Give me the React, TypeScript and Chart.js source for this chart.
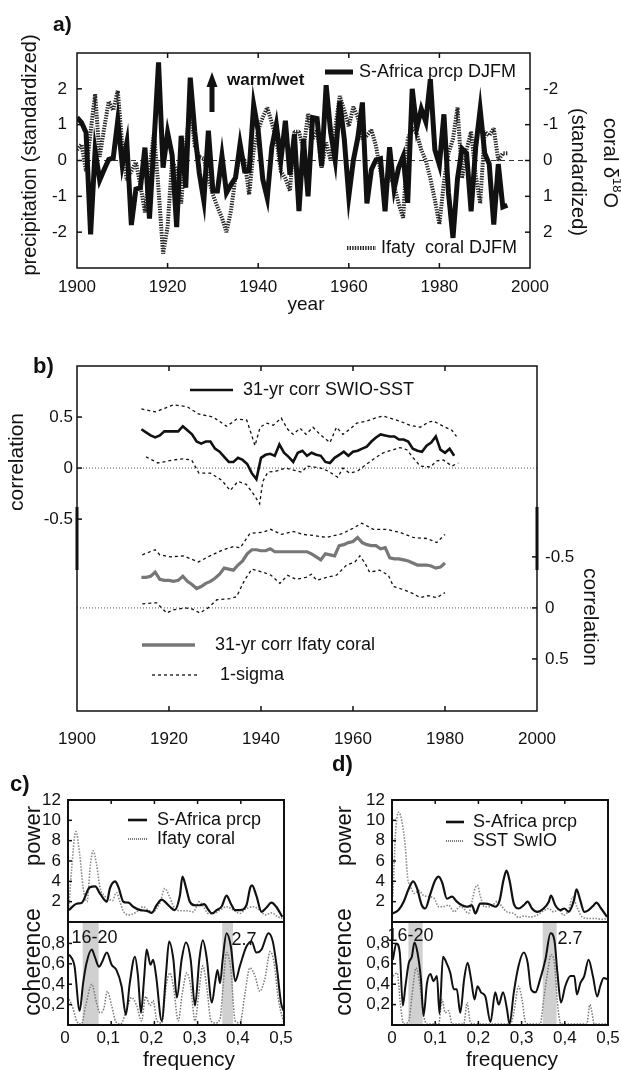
import React, { useEffect, useRef } from "react";
import { Chart, registerables } from "chart.js";
Chart.register(...registerables);

const FONT = "'Liberation Sans', Arial, Helvetica, sans-serif";
Chart.defaults.font.family = FONT;

type P = [number, number];

// ---------------- Panel a: annual series 1900-1995 ----------------
const aStartYear = 1900;
const aXTicks = [1900, 1920, 1940, 1960, 1980, 2000];
const aYTicks = [-2, -1, 0, 1, 2];
// S-Africa precipitation DJFM (standardized, left axis)
const aPrcp = [
  1.2, 1.06, 0.78, -2.06, 0.28, -0.55, -0.25, 0.03, 0.07, 1.12,
  -0.13, 0.5, -1.8, -0.8, -0.76, 0.36, -1.62, 0.5, 2.74, -0.2,
  0.78, 0.15, -1.86, 0.69, -0.76, 2.31, 0.8, -0.35, -1.12, 0.83,
  -0.85, -0.85, 0.13, -0.9, -0.67, -0.48, 0.46, -0.29, -0.29, 1.55,
  0.83, -0.52, -1.05, 0.36, 1.0, 0.0, 1.11, -0.4, 0.74, -1.41,
  0.6, -1.0, 1.2, 1.17, -0.16, 2.1, 0.78, 0.0, 1.65, 0.6,
  -1.0, 0.0, 0.64, 1.62, -1.2, -0.25, 0.02, 0.05, -1.42, 0.37,
  -0.8, -0.2, 0.12, -1.18, 2.0, 0.9, 1.44, 1.08, 2.27, 0.3,
  -0.12, 1.29, -0.9, -2.16, -0.5, 0.33, 0.2, -1.42, 0.35, 1.43,
  0.2, -0.1, -1.79, -0.1, -1.3, -1.25,
];
// Ifaty coral d18O DJFM (standardized, right reversed axis)
const aCoral = [
  -0.3, -0.45, 0.3, -0.8, -1.85, -0.1, -0.9, -1.65, -1.4, -1.95,
  -0.4, 0.55, 0.3, 0.05, 0.7, 1.45, 0.2, -0.75, 0.8, 2.6,
  1.85, 0, 0.3, 1.2, -0.4, -1.55, -0.4, -0.1, -0.05, 0.5,
  0.95, 1.3, 1.6, 2.0, 1.4, 0.45, -0.2, 0, 0.95, -0.3,
  -0.85, -1.2, -1.48, -1.05, -0.6, 0.3, 0.5, 0.85, -0.8, -0.8,
  -0.3, -1.3, -0.6, -0.85, 0.2, -0.5, 0, -0.9, -1.8, -1.4,
  -0.95, -1.5, -1.2, -0.6, -0.7, -0.85, -0.4, 0.3, 0.9, 0.4,
  0.7, 1.2, 1.6, -0.6, -0.9, -0.75, -0.3, 0, 0.5, 1.1,
  1.78, 0.6, -0.2, -0.6, -1.48, 0.5, -0.3, -0.8, 0.4, 1.2,
  -0.8, -0.7, -0.9, 0, -0.2, -0.2,
];

// ---------------- Panel b: 31-yr running correlations ----------------
const bXTicks = [1900, 1920, 1940, 1960, 1980, 2000];
const bYTicks = [-0.5, 0, 0.5];
const bSstStart = 1914;
const bSst = [
  0.38, 0.35, 0.32, 0.3, 0.32, 0.36, 0.36, 0.36, 0.36, 0.41,
  0.37, 0.33, 0.26, 0.24, 0.26, 0.26, 0.19, 0.16, 0.11, 0.06,
  0.06, 0.1, 0.08, 0.04, -0.05, -0.11, 0.1, 0.13, 0.14, 0.12,
  0.23, 0.15, 0.11, 0.06, 0.15, 0.17, 0.12, 0.15, 0.13, 0.12,
  0.06, 0.05, 0.1, 0.13, 0.16, 0.12, 0.16, 0.17, 0.19, 0.21,
  0.26, 0.3, 0.33, 0.32, 0.31, 0.31, 0.28, 0.28, 0.26, 0.19,
  0.17, 0.16, 0.22, 0.25, 0.31, 0.18, 0.15, 0.19, 0.12,
];
const bSstHi: P[] = [
  [1914, 0.58], [1917, 0.55], [1921, 0.62], [1924, 0.6], [1926.4, 0.53], [1929.6, 0.5],
  [1932.5, 0.41], [1933.5, 0.44], [1934.7, 0.48], [1936.9, 0.47], [1938.7, 0.22], [1939.8, 0.4],
  [1941.3, 0.44], [1942.7, 0.42], [1944.4, 0.49], [1945.8, 0.38], [1947, 0.33], [1948.5, 0.39],
  [1949.8, 0.33], [1951.3, 0.4], [1952.8, 0.33], [1955, 0.25], [1956.4, 0.4], [1957.8, 0.33],
  [1959.3, 0.38], [1960.8, 0.44], [1963, 0.46], [1964.8, 0.49], [1966.6, 0.51], [1968, 0.49],
  [1970.2, 0.46], [1972.3, 0.42], [1974.6, 0.4], [1976.4, 0.45], [1977.5, 0.46], [1979.6, 0.41],
  [1981.5, 0.37], [1982.5, 0.31],
];
const bSstLo: P[] = [
  [1915, 0.11], [1917.6, 0.05], [1921, 0.08], [1923, 0.09], [1924.9, 0.08], [1926.5, -0.05],
  [1929, -0.05], [1931.5, -0.12], [1933.3, -0.22], [1935, -0.13], [1936.8, -0.16], [1938.3, -0.25],
  [1939.7, -0.35], [1940.4, -0.13], [1941.5, -0.04], [1943.3, -0.03], [1945.3, 0.0], [1947.1, -0.02],
  [1948.9, -0.04], [1950, 0.02], [1951.5, 0.01], [1953, 0.0], [1954.6, -0.03], [1956.7, -0.09],
  [1957.8, 0.0], [1959.3, -0.05], [1961, -0.03], [1963, 0.04], [1964.8, 0.1], [1966.6, 0.15],
  [1968.8, 0.18], [1970.2, 0.2], [1971.7, 0.18], [1973.1, 0.1], [1974.6, 0.02], [1976.8, 0.01],
  [1978.2, 0.07], [1979.6, 0.08], [1981.5, 0.02], [1982.9, 0.05],
];
const bCoralStart = 1914;
const bCoral = [
  -0.3, -0.3, -0.31, -0.35, -0.28, -0.27, -0.27, -0.26, -0.27, -0.31,
  -0.26, -0.23, -0.19, -0.21, -0.24, -0.26, -0.29, -0.33, -0.39, -0.38,
  -0.37, -0.42, -0.46, -0.53, -0.57, -0.57, -0.56, -0.56, -0.58, -0.55,
  -0.55, -0.55, -0.55, -0.55, -0.55, -0.55, -0.55, -0.53, -0.5, -0.47,
  -0.53, -0.52, -0.51, -0.61, -0.62, -0.64, -0.65, -0.69, -0.64, -0.62,
  -0.61, -0.61, -0.58, -0.59, -0.49, -0.48, -0.48, -0.47, -0.46, -0.44,
  -0.42, -0.42, -0.42, -0.41, -0.39, -0.4, -0.44,
];
const bCoralHi: P[] = [
  [1914.2, -0.52], [1917, -0.57], [1918, -0.52], [1920.3, -0.5], [1923.1, -0.51], [1926.4, -0.45],
  [1928.9, -0.51], [1931.8, -0.57], [1934, -0.6], [1935.5, -0.59], [1937.6, -0.73], [1940.4, -0.74],
  [1942.1, -0.77], [1944.4, -0.72], [1947, -0.75], [1949.2, -0.72], [1951.3, -0.71], [1954.3, -0.69],
  [1957.8, -0.73], [1960, -0.78], [1961.9, -0.83], [1964.4, -0.77], [1967.2, -0.77], [1970.2, -0.74],
  [1973.1, -0.69], [1976.1, -0.68], [1978.2, -0.64], [1980, -0.72],
];
const bCoralLo: P[] = [
  [1914.2, -0.04], [1917.3, -0.05], [1919.5, 0.05], [1920.9, 0.02], [1923.5, 0.0], [1925, 0.01],
  [1926.7, 0.05], [1928.5, 0.0], [1930.4, -0.08], [1933.2, -0.09], [1934.7, -0.11], [1936.4, -0.27],
  [1938, -0.38], [1940.4, -0.35], [1942.2, -0.32], [1944.1, -0.24], [1945.8, -0.32], [1947.6, -0.28],
  [1949.8, -0.3], [1951, -0.33], [1952.1, -0.27], [1954.3, -0.3], [1956.4, -0.32], [1958.6, -0.42],
  [1960.4, -0.45], [1961.5, -0.51], [1962.6, -0.44], [1963.6, -0.35], [1965.8, -0.37], [1967.7, -0.32],
  [1968.8, -0.21], [1970.9, -0.18], [1973.1, -0.14], [1974.6, -0.1], [1976.4, -0.12], [1978.2, -0.1],
  [1980, -0.15],
];

// ---------------- Panels c/d: spectra & coherence ----------------
const fTicks = [0, 0.1, 0.2, 0.3, 0.4, 0.5];
const powTicks = [2, 4, 6, 8, 10, 12];
const cohTicks = [0.2, 0.4, 0.6, 0.8];
const cBands: P[] = [[0.034, 0.071], [0.357, 0.382]];
const dBands: P[] = [[0.038, 0.071], [0.349, 0.381]];

const cPowPrcp: P[] = [
  [0.002, 1.17], [0.02, 1.8], [0.032, 1.9], [0.05, 3.4], [0.063, 3.5], [0.074, 2.8], [0.09, 2.0],
  [0.097, 3.3], [0.109, 4.0], [0.117, 3.4], [0.128, 2.0], [0.14, 1.9], [0.151, 1.5], [0.167, 1.17],
  [0.182, 1.1], [0.194, 0.9], [0.205, 1.65], [0.217, 2.2], [0.224, 2.0], [0.236, 1.5], [0.247, 1.17],
  [0.259, 2.6], [0.265, 4.47], [0.273, 3.4], [0.282, 2.0], [0.294, 1.65], [0.305, 1.65], [0.315, 1.75],
  [0.325, 1.2], [0.333, 0.84], [0.344, 1.17], [0.356, 1.55], [0.367, 2.6], [0.377, 1.8], [0.387, 1.17],
  [0.398, 1.17], [0.413, 1.65], [0.422, 3.4], [0.426, 3.6], [0.436, 2.6], [0.448, 1.0], [0.459, 1.4],
  [0.471, 1.9], [0.482, 1.5], [0.496, 0.5],
];
const cPowCoral: P[] = [
  [0.002, 1.5], [0.008, 5.0], [0.018, 8.9], [0.027, 6.7], [0.035, 3.4], [0.044, 2.0], [0.052, 5.7],
  [0.058, 7.0], [0.066, 5.7], [0.074, 3.4], [0.084, 2.6], [0.093, 2.3], [0.103, 2.1], [0.112, 2.9],
  [0.12, 2.0], [0.129, 1.0], [0.143, 0.7], [0.159, 1.0], [0.174, 1.5], [0.186, 1.17], [0.197, 1.0],
  [0.213, 1.9], [0.224, 3.3], [0.234, 2.6], [0.245, 1.5], [0.259, 1.1], [0.275, 1.1], [0.29, 1.0],
  [0.304, 2.0], [0.313, 1.55], [0.325, 0.84], [0.336, 0.84], [0.352, 1.17], [0.367, 1.5], [0.383, 1.17],
  [0.398, 0.84], [0.413, 1.33], [0.429, 1.5], [0.444, 1.17], [0.456, 0.7], [0.471, 0.9], [0.486, 0.5],
  [0.496, 0.35],
];
const cCohPrcp: P[] = [
  [0.002, 0.69], [0.008, 0.66], [0.015, 0.58], [0.027, 0.14], [0.035, 0.41], [0.043, 0.61], [0.055, 0.74],
  [0.062, 0.67], [0.072, 0.57], [0.078, 0.61], [0.09, 0.71], [0.101, 0.59], [0.112, 0.54], [0.124, 0.38],
  [0.134, 0.1], [0.143, 0.41], [0.155, 0.67], [0.162, 0.48], [0.169, 0.12], [0.176, 0.45], [0.182, 0.74],
  [0.191, 0.59], [0.197, 0.64], [0.204, 0.48], [0.217, 0.04], [0.227, 0.51], [0.234, 0.82], [0.244, 0.64],
  [0.252, 0.27], [0.263, 0.64], [0.273, 0.81], [0.284, 0.64], [0.294, 0.19], [0.304, 0.64], [0.312, 0.83],
  [0.321, 0.66], [0.333, 0.22], [0.341, 0.43], [0.346, 0.54], [0.352, 0.41], [0.358, 0.64], [0.367, 0.9],
  [0.377, 0.77], [0.387, 0.43], [0.398, 0.58], [0.413, 0.77], [0.425, 0.82], [0.436, 0.71], [0.448, 0.74],
  [0.464, 0.9], [0.474, 0.82], [0.483, 0.58], [0.493, 0.22], [0.499, 0.14],
];
const cCohCoral: P[] = [
  [0.0, 0.28], [0.012, 0.16], [0.021, 0.03], [0.031, 0.01], [0.041, 0.19], [0.055, 0.4], [0.066, 0.22],
  [0.074, 0.12], [0.083, 0.16], [0.091, 0.33], [0.101, 0.19], [0.111, 0.03], [0.122, 0.01], [0.136, 0.16],
  [0.147, 0.27], [0.159, 0.19], [0.17, 0.04], [0.18, 0.28], [0.19, 0.19], [0.197, 0.24], [0.206, 0.04],
  [0.217, 0.02], [0.227, 0.38], [0.236, 0.51], [0.245, 0.35], [0.255, 0.04], [0.265, 0.32], [0.275, 0.51],
  [0.284, 0.38], [0.294, 0.04], [0.302, 0.28], [0.312, 0.58], [0.321, 0.38], [0.331, 0.04], [0.341, 0.02],
  [0.352, 0.06], [0.359, 0.38], [0.367, 0.71], [0.377, 0.54], [0.387, 0.04], [0.398, 0.02], [0.41, 0.32],
  [0.421, 0.56], [0.433, 0.48], [0.444, 0.33], [0.456, 0.46], [0.468, 0.72], [0.477, 0.61], [0.487, 0.25],
  [0.499, 0.03],
];
const dPowPrcp: P[] = [
  [0.002, 0.84], [0.015, 1.17], [0.027, 2.0], [0.039, 3.3], [0.049, 4.0], [0.058, 3.3], [0.069, 1.65],
  [0.077, 1.33], [0.089, 2.8], [0.1, 4.1], [0.108, 4.47], [0.116, 3.9], [0.127, 2.3], [0.139, 2.5],
  [0.15, 2.0], [0.162, 1.65], [0.174, 1.5], [0.185, 1.65], [0.193, 0.84], [0.204, 1.8], [0.216, 1.8],
  [0.231, 1.65], [0.239, 1.5], [0.249, 2.1], [0.258, 4.1], [0.265, 5.05], [0.272, 4.1], [0.282, 1.8],
  [0.293, 1.33], [0.305, 1.65], [0.314, 2.0], [0.324, 1.33], [0.336, 1.0], [0.351, 1.33], [0.363, 2.0],
  [0.368, 2.6], [0.378, 1.65], [0.39, 1.17], [0.399, 1.33], [0.409, 1.0], [0.421, 2.1], [0.427, 3.2],
  [0.436, 2.1], [0.445, 1.0], [0.455, 1.17], [0.467, 1.65], [0.473, 1.9], [0.484, 1.33], [0.498, 0.5],
];
const dPowSst: P[] = [
  [0.002, 2.5], [0.008, 8.6], [0.015, 10.8], [0.023, 9.9], [0.031, 7.3], [0.036, 4.4], [0.042, 3.6],
  [0.052, 2.8], [0.062, 3.1], [0.073, 2.6], [0.085, 2.5], [0.098, 2.3], [0.108, 1.5], [0.118, 1.5],
  [0.131, 1.65], [0.144, 1.0], [0.157, 1.5], [0.166, 1.33], [0.177, 0.84], [0.185, 2.0], [0.193, 3.4],
  [0.198, 3.6], [0.204, 2.6], [0.214, 1.5], [0.228, 1.5], [0.243, 2.0], [0.255, 1.5], [0.266, 1.0],
  [0.282, 0.84], [0.293, 0.45], [0.305, 0.58], [0.32, 0.5], [0.336, 0.68], [0.351, 1.1], [0.363, 1.33],
  [0.374, 1.0], [0.386, 1.23], [0.397, 0.68], [0.409, 1.17], [0.418, 2.46], [0.428, 1.5], [0.44, 0.5],
  [0.455, 0.35], [0.471, 0.35], [0.486, 0.26], [0.498, 0.35],
];
const dCohPrcp: P[] = [
  [0.002, 0.64], [0.01, 0.8], [0.018, 0.71], [0.025, 0.19], [0.031, 0.38], [0.039, 0.61], [0.046, 0.67],
  [0.052, 0.81], [0.059, 0.71], [0.067, 0.45], [0.073, 0.09], [0.081, 0.41], [0.089, 0.5], [0.096, 0.43],
  [0.104, 0.48], [0.11, 0.11], [0.118, 0.67], [0.126, 0.61], [0.135, 0.51], [0.143, 0.35], [0.15, 0.35],
  [0.158, 0.12], [0.167, 0.45], [0.175, 0.61], [0.183, 0.45], [0.191, 0.25], [0.198, 0.38], [0.206, 0.32],
  [0.216, 0.28], [0.228, 0.03], [0.239, 0.32], [0.247, 0.2], [0.257, 0.32], [0.266, 0.16], [0.272, 0.01],
  [0.282, 0.32], [0.293, 0.58], [0.305, 0.71], [0.314, 0.61], [0.322, 0.35], [0.332, 0.32], [0.343, 0.45],
  [0.355, 0.64], [0.367, 0.9], [0.376, 0.83], [0.383, 0.51], [0.391, 0.22], [0.401, 0.38], [0.413, 0.48],
  [0.422, 0.48], [0.428, 0.3], [0.436, 0.41], [0.445, 0.48], [0.455, 0.64], [0.465, 0.48], [0.475, 0.28],
  [0.482, 0.38], [0.49, 0.46], [0.499, 0.45],
];
const dCohSst: P[] = [
  [0.002, 0.48], [0.012, 0.51], [0.019, 0.22], [0.027, 0.01], [0.039, 0.04], [0.046, 0.28], [0.056, 0.56],
  [0.064, 0.41], [0.072, 0.12], [0.081, 0.01], [0.108, 0.01], [0.116, 0.25], [0.123, 0.12], [0.131, 0.14],
  [0.139, 0.01], [0.166, 0.01], [0.174, 0.22], [0.181, 0.03], [0.189, 0.01], [0.274, 0.01], [0.282, 0.12],
  [0.293, 0.38], [0.301, 0.25], [0.309, 0.03], [0.318, 0.01], [0.343, 0.01], [0.351, 0.25], [0.36, 0.51],
  [0.368, 0.69], [0.376, 0.61], [0.383, 0.22], [0.391, 0.01], [0.451, 0.01], [0.458, 0.2], [0.463, 0.12],
  [0.468, 0.01], [0.499, 0.01],
];

// ---------------- helpers ----------------
const toXY = (pairs: P[]) => pairs.map(([x, y]) => ({ x, y }));
const annual = (start: number, vals: number[]) => vals.map((y, i) => ({ x: start + i, y }));
const setTicks = (vals: number[]) => (s: any) => { s.ticks = vals.map((value) => ({ value })); };
const fixW = (w: number) => (s: any) => { s.width = w; s.paddingTop = 0; s.paddingBottom = 0; s.paddingLeft = 0; s.paddingRight = 0; };
const fixH = (h: number) => (s: any) => { s.height = h; s.paddingTop = 0; s.paddingBottom = 0; s.paddingLeft = 0; s.paddingRight = 0; };
const noGrid = { display: false, drawTicks: false };
const noBorder = { display: false };
const tk = (padding: number, cb: (v: number) => string, extra: any = {}) => ({
  padding, color: "#111", font: { size: 17, family: FONT }, maxRotation: 0, minRotation: 0, autoSkip: false,
  callback: (v: any) => cb(Number(v)), ...extra,
});
const plainNum = (v: number) => (Math.abs(v) < 1e-9 ? "0" : String(Math.round(v * 100) / 100));
const commaNum = (v: number) => (Math.abs(v) < 1e-9 ? "0" : v.toFixed(1).replace(".", ","));

type T = { t: string; x: number; y: number; s?: number; b?: boolean; a?: CanvasTextAlign; r?: number; c?: string };
function texts(ctx: CanvasRenderingContext2D, ox: number, oy: number, items: T[]) {
  for (const it of items) {
    ctx.save();
    ctx.translate(it.x - ox, it.y - oy);
    if (it.r) ctx.rotate(it.r);
    ctx.font = `${it.b ? "bold " : ""}${it.s ?? 18}px ${FONT}`;
    ctx.fillStyle = it.c ?? "#111";
    ctx.textAlign = it.a ?? "left";
    ctx.textBaseline = "middle";
    ctx.fillText(it.t, 0, 0);
    ctx.restore();
  }
}
function seg(ctx: CanvasRenderingContext2D, ox: number, oy: number, x1: number, x2: number, y: number, color: string, lw: number, dash: number[] = []) {
  ctx.save();
  ctx.strokeStyle = color; ctx.lineWidth = lw; ctx.setLineDash(dash); ctx.lineCap = "butt";
  ctx.beginPath(); ctx.moveTo(x1 - ox, y - oy); ctx.lineTo(x2 - ox, y - oy); ctx.stroke();
  ctx.restore();
}
function frame(chart: any, lw: number) {
  const { ctx, chartArea: a } = chart;
  ctx.save(); ctx.strokeStyle = "#111"; ctx.lineWidth = lw; ctx.setLineDash([]);
  ctx.strokeRect(a.left, a.top, a.right - a.left, a.bottom - a.top);
  ctx.restore();
}
function ticksX(chart: any, id: string, vals: number[], len: number, lw: number, top = true, bottom = true) {
  const { ctx, chartArea: a } = chart; const s = chart.scales[id];
  ctx.save(); ctx.strokeStyle = "#111"; ctx.lineWidth = lw; ctx.setLineDash([]);
  for (const v of vals) {
    const x = s.getPixelForValue(v);
    ctx.beginPath();
    if (top) { ctx.moveTo(x, a.top); ctx.lineTo(x, a.top + len); }
    if (bottom) { ctx.moveTo(x, a.bottom); ctx.lineTo(x, a.bottom - len); }
    ctx.stroke();
  }
  ctx.restore();
}
function ticksY(chart: any, id: string, vals: number[], len: number, lw: number, side: "left" | "right") {
  const { ctx, chartArea: a } = chart; const s = chart.scales[id];
  ctx.save(); ctx.strokeStyle = "#111"; ctx.lineWidth = lw; ctx.setLineDash([]);
  for (const v of vals) {
    const y = s.getPixelForValue(v);
    ctx.beginPath();
    if (side === "left") { ctx.moveTo(a.left, y); ctx.lineTo(a.left + len, y); }
    else { ctx.moveTo(a.right, y); ctx.lineTo(a.right - len, y); }
    ctx.stroke();
  }
  ctx.restore();
}
function hline(chart: any, id: string, v: number, dash: number[], color: string, lw: number) {
  const { ctx, chartArea: a } = chart; const y = chart.scales[id].getPixelForValue(v);
  ctx.save(); ctx.strokeStyle = color; ctx.lineWidth = lw; ctx.setLineDash(dash);
  ctx.beginPath(); ctx.moveTo(a.left, y); ctx.lineTo(a.right, y); ctx.stroke(); ctx.restore();
}
function bands(chart: any, list: P[]) {
  const { ctx, chartArea: a } = chart; const s = chart.scales.x;
  ctx.save(); ctx.fillStyle = "#d0d0d0";
  for (const [f1, f2] of list) {
    const x1 = s.getPixelForValue(f1); const x2 = s.getPixelForValue(f2);
    ctx.fillRect(x1, a.top, x2 - x1, a.bottom - a.top);
  }
  ctx.restore();
}

const common = {
  animation: false as const,
  responsive: false,
  devicePixelRatio: 1,
  events: [] as any[],
  plugins: { legend: { display: false }, tooltip: { enabled: false } },
  elements: { point: { radius: 0 }, line: { tension: 0 } },
};

const CORAL_COLOR = "#262626";
const CORAL_DASH = [1.4, 1.2];

// ---------------- chart configs ----------------
function configA(ox: number, oy: number): any {
  return {
    type: "line",
    data: {
      datasets: [
        { data: annual(aStartYear, aPrcp), yAxisID: "yL", borderColor: "#111", borderWidth: 5, borderJoinStyle: "miter", pointRadius: 0 },
        { data: annual(aStartYear, aCoral), yAxisID: "yR", borderColor: CORAL_COLOR, borderWidth: 4, borderDash: CORAL_DASH, borderCapStyle: "butt", borderJoinStyle: "bevel", pointRadius: 0 },
      ],
    },
    options: {
      ...common,
      layout: { padding: { top: 53 - oy, left: 0, right: 0, bottom: 0 } },
      scales: {
        x: { type: "linear", position: "bottom", min: 1900, max: 2000, afterFit: fixH(52), afterBuildTicks: setTicks(aXTicks), ticks: tk(9, (v) => String(v)), grid: noGrid, border: noBorder },
        yL: { type: "linear", position: "left", min: -3, max: 3, afterFit: fixW(77), afterBuildTicks: setTicks(aYTicks), ticks: tk(10, plainNum), grid: noGrid, border: noBorder },
        yR: { type: "linear", position: "right", reverse: true, min: -3, max: 3, afterFit: fixW(91), afterBuildTicks: setTicks(aYTicks), ticks: tk(13, plainNum), grid: noGrid, border: noBorder },
      },
    },
    plugins: [{
      id: "decoA",
      beforeDatasetsDraw(chart: any) { hline(chart, "yL", 0, [5, 4], "#333", 1); },
      afterDatasetsDraw(chart: any) {
        const ctx = chart.ctx;
        frame(chart, 1.5);
        ticksX(chart, "x", [1920, 1940, 1960, 1980], 5, 1.5);
        ticksY(chart, "yL", aYTicks, 5, 1.5, "left");
        ticksY(chart, "yR", aYTicks, 5, 1.5, "right");
        // arrow
        ctx.save(); ctx.fillStyle = "#111";
        ctx.fillRect(209.5 - ox, 84 - oy, 5, 28);
        ctx.beginPath(); ctx.moveTo(206.5 - ox, 87 - oy); ctx.lineTo(217.5 - ox, 87 - oy); ctx.lineTo(212 - ox, 72 - oy); ctx.closePath(); ctx.fill();
        ctx.restore();
        seg(ctx, ox, oy, 325, 353, 72, "#111", 5);
        seg(ctx, ox, oy, 347, 376, 248, CORAL_COLOR, 4, CORAL_DASH);
        texts(ctx, ox, oy, [
          { t: "a)", x: 53, y: 25, s: 21, b: true },
          { t: "warm/wet", x: 227, y: 80, s: 17, b: true },
          { t: "S-Africa prcp DJFM", x: 359, y: 72, s: 18 },
          { t: "Ifaty  coral DJFM", x: 381, y: 248, s: 18 },
          { t: "precipitation (standardized)", x: 30, y: 155, s: 20, r: -Math.PI / 2, a: "center" },
          { t: "year", x: 306, y: 305, s: 19, a: "center" },
          { t: "(standardized)", x: 578, y: 172, s: 20, r: Math.PI / 2, a: "center" },
        ]);
        // coral d18O with superscript
        ctx.save();
        ctx.translate(610 - ox, 163 - oy); ctx.rotate(Math.PI / 2);
        ctx.fillStyle = "#111"; ctx.textBaseline = "middle"; ctx.textAlign = "left";
        ctx.font = `20px ${FONT}`; const w1 = ctx.measureText("coral δ").width; const w3 = ctx.measureText("O").width;
        ctx.font = `13px ${FONT}`; const w2 = ctx.measureText("18").width;
        let x = -(w1 + w2 + w3) / 2;
        ctx.font = `20px ${FONT}`; ctx.fillText("coral δ", x, 0); x += w1;
        ctx.font = `13px ${FONT}`; ctx.fillText("18", x, -7); x += w2;
        ctx.font = `20px ${FONT}`; ctx.fillText("O", x, 0);
        ctx.restore();
      },
    }],
  };
}

function configB(ox: number, oy: number): any {
  return {
    type: "line",
    data: {
      datasets: [
        { data: annual(bSstStart, bSst), yAxisID: "yL", borderColor: "#111", borderWidth: 2.6, pointRadius: 0 },
        { data: annual(bCoralStart, bCoral), yAxisID: "yR", borderColor: "#777", borderWidth: 3.2, pointRadius: 0 },
        { data: toXY(bSstHi), yAxisID: "yL", borderColor: "#111", borderWidth: 1.3, borderDash: [3, 3], pointRadius: 0 },
        { data: toXY(bSstLo), yAxisID: "yL", borderColor: "#111", borderWidth: 1.3, borderDash: [3, 3], pointRadius: 0 },
        { data: toXY(bCoralHi), yAxisID: "yR", borderColor: "#111", borderWidth: 1.3, borderDash: [3, 3], pointRadius: 0 },
        { data: toXY(bCoralLo), yAxisID: "yR", borderColor: "#111", borderWidth: 1.3, borderDash: [3, 3], pointRadius: 0 },
      ],
    },
    options: {
      ...common,
      layout: { padding: { top: 366 - oy, left: 0, right: 0, bottom: 0 } },
      scales: {
        x: { type: "linear", position: "bottom", min: 1900, max: 2000, afterFit: fixH(430 - (711 - oy)), afterBuildTicks: setTicks(bXTicks), ticks: tk(18, (v) => String(v)), grid: noGrid, border: noBorder },
        yL: { type: "linear", position: "left", min: -2.38, max: 1.0, afterFit: fixW(77), afterBuildTicks: setTicks(bYTicks), ticks: tk(4, plainNum), grid: noGrid, border: noBorder },
        yR: { type: "linear", position: "right", reverse: true, min: -2.37, max: 1.01, afterFit: fixW(84), afterBuildTicks: setTicks(bYTicks), ticks: tk(8, plainNum), grid: noGrid, border: noBorder },
      },
    },
    plugins: [{
      id: "decoB",
      beforeDatasetsDraw(chart: any) {
        hline(chart, "yL", 0, [1, 2], "#555", 1);
        hline(chart, "yR", 0, [1, 2], "#555", 1);
      },
      afterDatasetsDraw(chart: any) {
        const ctx = chart.ctx;
        frame(chart, 1.5);
        const a = chart.chartArea;
        ctx.save(); ctx.strokeStyle = "#111"; ctx.lineWidth = 3;
        ctx.beginPath(); ctx.moveTo(a.left, 507 - oy); ctx.lineTo(a.left, 570 - oy);
        ctx.moveTo(a.right, 507 - oy); ctx.lineTo(a.right, 570 - oy); ctx.stroke(); ctx.restore();
        ticksX(chart, "x", [1920, 1940, 1960, 1980], 5, 1.5);
        ticksY(chart, "yL", bYTicks, 5, 1.5, "left");
        ticksY(chart, "yR", bYTicks, 5, 1.5, "right");
        seg(ctx, ox, oy, 190, 233, 390, "#111", 2.6);
        seg(ctx, ox, oy, 142, 195, 645, "#777", 3.5);
        seg(ctx, ox, oy, 152, 197, 675, "#111", 1.3, [3, 3]);
        texts(ctx, ox, oy, [
          { t: "b)", x: 33, y: 367, s: 22, b: true },
          { t: "31-yr corr SWIO-SST", x: 243, y: 390, s: 18 },
          { t: "31-yr corr Ifaty coral", x: 215, y: 645, s: 18 },
          { t: "1-sigma", x: 220, y: 675, s: 18 },
          { t: "correlation", x: 17, y: 462, s: 21, r: -Math.PI / 2, a: "center" },
          { t: "correlation", x: 590, y: 617, s: 21, r: Math.PI / 2, a: "center" },
        ]);
      },
    }],
  };
}

type Spec = {
  label: string; lx: number; ly: number; left: number; right: number; titleX: number;
  lineX1: number; lineX2: number; legTextX: number; legY1: number; legY2: number; name1: string; name2: string;
  pPad: number; cPad: number; labelOffset: number;
  powA: P[]; powB: P[]; cohA: P[]; cohB: P[]; bandList: P[];
  t1: [number, number]; t2: [number, number]; freqX: number;
};

function configPow(sp: Spec, ox: number, oy: number, w: number, h: number): any {
  return {
    type: "line",
    data: {
      datasets: [
        { data: toXY(sp.powA), borderColor: "#111", borderWidth: 2.2, cubicInterpolationMode: "monotone", pointRadius: 0 },
        { data: toXY(sp.powB), borderColor: "#888", borderWidth: 1.6, borderDash: [1.5, 1.5], cubicInterpolationMode: "monotone", pointRadius: 0 },
      ],
    },
    options: {
      ...common,
      layout: { padding: { top: 800 - oy, bottom: oy + h - 922, left: 0, right: ox + w - sp.right } },
      scales: {
        x: { type: "linear", display: false, min: 0, max: 0.5 },
        y: { type: "linear", position: "left", min: 0, max: 12, afterFit: fixW(sp.left - ox), afterBuildTicks: setTicks(powTicks), ticks: tk(sp.pPad, plainNum), grid: noGrid, border: noBorder },
      },
    },
    plugins: [{
      id: "decoP",
      afterDatasetsDraw(chart: any) {
        const ctx = chart.ctx;
        frame(chart, 2);
        ticksY(chart, "y", powTicks, 4, 1.5, "left");
        ticksX(chart, "x", [0.1, 0.2, 0.3, 0.4], 4, 1.5, true, false);
        seg(ctx, ox, oy, sp.lineX1, sp.lineX2, sp.legY1, "#111", 2.6);
        seg(ctx, ox, oy, sp.lineX1, sp.lineX2, sp.legY2, "#777", 2, [1, 1]);
        texts(ctx, ox, oy, [
          { t: sp.label, x: sp.lx, y: sp.ly, s: 22, b: true },
          { t: sp.name1, x: sp.legTextX, y: sp.legY1, s: 18 },
          { t: sp.name2, x: sp.legTextX, y: sp.legY2, s: 18 },
          { t: "power", x: sp.titleX, y: 836, s: 22, r: -Math.PI / 2, a: "center" },
        ]);
      },
    }],
  };
}

function configCoh(sp: Spec, ox: number, oy: number, w: number, h: number): any {
  return {
    type: "line",
    data: {
      datasets: [
        { data: toXY(sp.cohA), borderColor: "#111", borderWidth: 2, cubicInterpolationMode: "monotone", pointRadius: 0 },
        { data: toXY(sp.cohB), borderColor: "#777", borderWidth: 1.5, borderDash: [1.5, 1.5], cubicInterpolationMode: "monotone", pointRadius: 0 },
      ],
    },
    options: {
      ...common,
      layout: { padding: { top: 922 - oy, bottom: 0, left: 0, right: ox + w - sp.right } },
      scales: {
        x: { type: "linear", position: "bottom", min: 0, max: 0.5, afterFit: fixH(oy + h - 1025), afterBuildTicks: setTicks(fTicks), ticks: tk(3, commaNum, { labelOffset: sp.labelOffset }), grid: noGrid, border: noBorder },
        y: { type: "linear", position: "left", min: 0, max: 1.01, afterFit: fixW(sp.left - ox), afterBuildTicks: setTicks(cohTicks), ticks: tk(sp.cPad, commaNum), grid: noGrid, border: noBorder },
      },
    },
    plugins: [{
      id: "decoC",
      beforeDatasetsDraw(chart: any) { bands(chart, sp.bandList); },
      afterDatasetsDraw(chart: any) {
        const ctx = chart.ctx;
        frame(chart, 2);
        ticksY(chart, "y", cohTicks, 4, 1.5, "left");
        ticksX(chart, "x", [0.1, 0.2, 0.3, 0.4], 4, 1.5, false, true);
        texts(ctx, ox, oy, [
          { t: "16-20", x: sp.t1[0], y: sp.t1[1], s: 18, a: "center" },
          { t: "2.7", x: sp.t2[0], y: sp.t2[1], s: 18, a: "center" },
          { t: "coherence", x: sp.titleX, y: 962, s: 23, r: -Math.PI / 2, a: "center" },
          { t: "frequency", x: sp.freqX, y: 1060, s: 21, a: "center" },
        ]);
      },
    }],
  };
}

const specC: Spec = {
  label: "c)", lx: 10, ly: 785, left: 68, right: 284, titleX: 34,
  lineX1: 128, lineX2: 147, legTextX: 157, legY1: 820, legY2: 839, name1: "S-Africa prcp", name2: "Ifaty coral",
  pPad: 7, cPad: 3, labelOffset: -3,
  powA: cPowPrcp, powB: cPowCoral, cohA: cCohPrcp, cohB: cCohCoral, bandList: cBands,
  t1: [94.5, 938], t2: [244, 940], freqX: 189,
};
const specD: Spec = {
  label: "d)", lx: 332, ly: 765, left: 392, right: 608, titleX: 345,
  lineX1: 446, lineX2: 464, legTextX: 473, legY1: 822, legY2: 841, name1: "S-Africa prcp", name2: "SST SwIO",
  pPad: 7, cPad: 2, labelOffset: 0,
  powA: dPowPrcp, powB: dPowSst, cohA: dCohPrcp, cohB: dCohSst, bandList: dBands,
  t1: [410.5, 936], t2: [570, 939], freqX: 512,
};

function ChartBox({ left, top, width, height, make }: { left: number; top: number; width: number; height: number; make: (ox: number, oy: number, w: number, h: number) => any }) {
  const ref = useRef<HTMLCanvasElement>(null);
  useEffect(() => {
    const chart = new Chart(ref.current as HTMLCanvasElement, make(left, top, width, height));
    return () => chart.destroy();
  }, []);
  return <canvas ref={ref} width={width} height={height} style={{ position: "absolute", left, top, width, height }} />;
}

export default function App() {
  return (
    <div style={{ position: "absolute", left: 0, top: 0, width: 621, height: 1070, background: "#fff", overflow: "hidden" }}>
      <ChartBox left={0} top={0} width={621} height={320} make={(ox, oy) => configA(ox, oy)} />
      <ChartBox left={0} top={330} width={621} height={430} make={(ox, oy) => configB(ox, oy)} />
      <ChartBox left={0} top={755} width={300} height={177} make={(ox, oy, w, h) => configPow(specC, ox, oy, w, h)} />
      <ChartBox left={0} top={880} width={300} height={190} make={(ox, oy, w, h) => configCoh(specC, ox, oy, w, h)} />
      <ChartBox left={310} top={745} width={311} height={187} make={(ox, oy, w, h) => configPow(specD, ox, oy, w, h)} />
      <ChartBox left={310} top={880} width={311} height={190} make={(ox, oy, w, h) => configCoh(specD, ox, oy, w, h)} />
    </div>
  );
}
